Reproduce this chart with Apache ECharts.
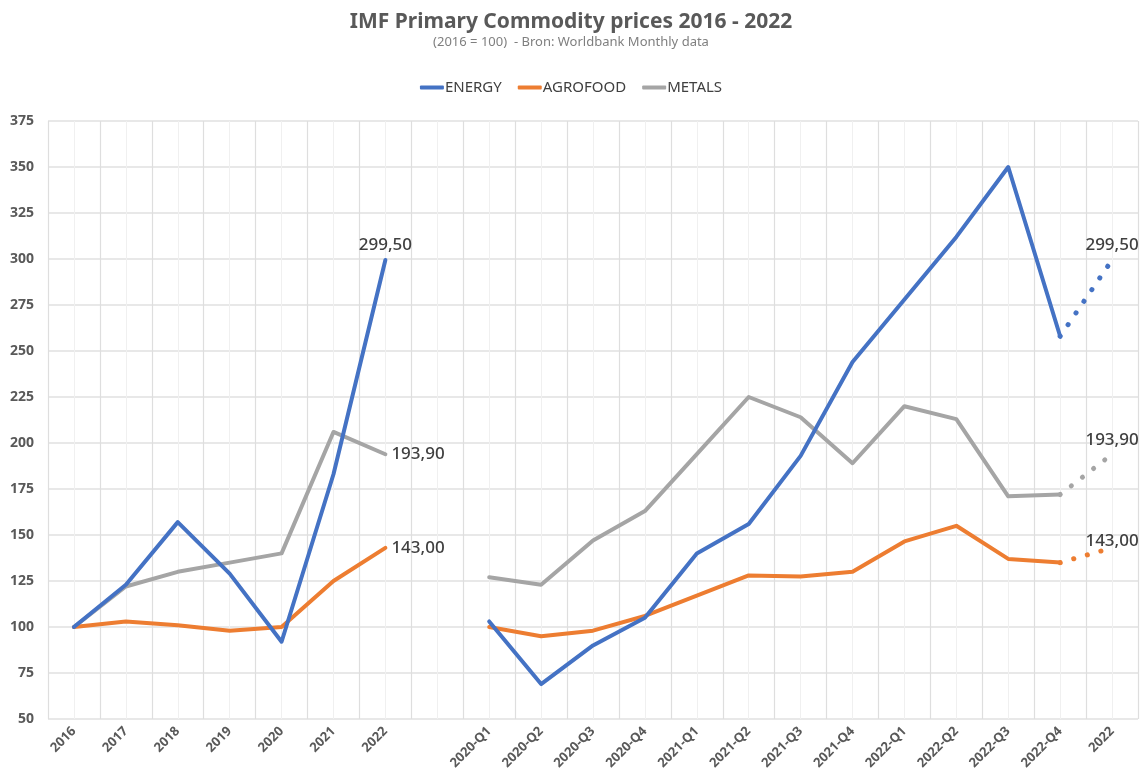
<!DOCTYPE html>
<html>
<head>
<meta charset="utf-8">
<script src="https://cdn.jsdelivr.net/npm/echarts@6/dist/echarts.min.js"></script>
<style>
  html, body { margin: 0; padding: 0; background: #fff; }
  #main { width: 1142px; height: 781px; }
</style>
</head>
<body>
<div id="main"></div>
<script>
// categorieen: jaren, lege kolom, kwartalen
var yearCats = ['2016', '2017', '2018', '2019', '2020', '2021', '2022'];
var quarterCats = ['2020-Q1', '2020-Q2', '2020-Q3', '2020-Q4', '2021-Q1', '2021-Q2',
                   '2021-Q3', '2021-Q4', '2022-Q1', '2022-Q2', '2022-Q3', '2022-Q4'];
var lastCat = '2022';

// jaarwaarden (2016 = 100)
var energyYear = [100, 123, 157, 129, 92, 183, 299.5];
var agroYear   = [100, 103, 101, 98, 100, 125, 143];
var metalsYear = [100, 122, 130, 135, 140, 206, 193.9];

// kwartaalwaarden
var energyQ = [103, 69, 90, 105, 140, 156, 193, 244, 278, 312, 350, 258];
var agroQ   = [100, 95, 98, 106, 117, 128, 127.5, 130, 146.5, 155, 137, 135];
var metalsQ = [127, 123, 147, 163, 194, 225, 214, 189, 220, 213, 171, 172];

// eindwaarden 2022 (stippellijn)
var energyEnd = 299.5;
var agroEnd = 143;
var metalsEnd = 193.9;

var yTicks = { min: 50, max: 375, interval: 25 };

var categories = yearCats.concat(['']).concat(quarterCats).concat([lastCat]);
var nCat = categories.length;

function fmt(v) { return v.toFixed(2).replace('.', ','); }

function solidData(yearVals, qVals, labelPos) {
    var d = yearVals.map(function (v, i) {
        if (i === yearVals.length - 1) {
            return { value: v, label: { show: true, position: labelPos } };
        }
        return v;
    });
    return d.concat([null]).concat(qVals).concat([null]);
}

function dottedData(qVals, endVal, labelDist) {
    var d = [];
    for (var i = 0; i < nCat; i++) d.push(null);
    d[nCat - 2] = qVals[qVals.length - 1];
    d[nCat - 1] = { value: endVal, label: { show: true, position: 'top', distance: labelDist } };
    return d;
}

var colors = { energy: '#4472C4', agro: '#ED7D31', metals: '#A5A5A5' };

var labelStyle = {
    show: false,
    formatter: function (p) { return fmt(p.value); },
    color: '#404040',
    fontSize: 17,
    fontWeight: 500,
    fontFamily: 'Noto Sans',
    distance: 6
};

function solidSeries(name, color, data, z) {
    return {
        name: name, type: 'line', data: data, z: z,
        symbol: 'circle', symbolSize: 0, showSymbol: true,
        connectNulls: false,
        lineStyle: { color: color, width: 4, cap: 'round', join: 'round' },
        itemStyle: { color: color },
        label: labelStyle
    };
}

function dotSeries(name, color, data, z) {
    return {
        name: name, type: 'line', data: data, z: z,
        symbol: 'circle', symbolSize: 0, showSymbol: true,
        lineStyle: { color: color, width: 5, type: [0.1, 14], cap: 'round' },
        itemStyle: { color: color },
        label: labelStyle
    };
}

var chart = echarts.init(document.getElementById('main'));

var option = {
    animation: false,
    color: [colors.energy, colors.agro, colors.metals],
    title: {
        text: 'IMF Primary Commodity prices 2016 - 2022',
        subtext: '(2016 = 100)  - Bron: Worldbank Monthly data',
        left: 'center',
        top: 7,
        itemGap: 3,
        textStyle: { fontSize: 21, fontWeight: 'bold', color: '#595959', fontFamily: 'Noto Sans' },
        subtextStyle: { fontSize: 13, color: '#7f7f7f', fontFamily: 'Noto Sans' }
    },
    legend: {
        top: 75,
        left: 'center',
        itemWidth: 24,
        itemHeight: 4,
        itemGap: 16,
        icon: 'roundRect',
        data: ['ENERGY', 'AGROFOOD', 'METALS'],
        textStyle: { fontSize: 15, color: '#404040', fontFamily: 'Noto Sans', padding: [0, 0, 0, -4] }
    },
    grid: { left: 48, right: 4, top: 121, bottom: 62 },
    xAxis: [
        {
            type: 'category',
            data: categories,
            boundaryGap: true,
            axisLine: { show: false },
            axisTick: { show: false },
            splitLine: { show: true, lineStyle: { color: '#dedede', width: 1.2 } },
            axisLabel: {
                interval: 0, rotate: 45, margin: 10,
                fontSize: 13, fontWeight: 'bold', color: '#595959', fontFamily: 'Noto Sans'
            }
        },
        {
            // alleen voor de lichte tussenlijnen in het midden van elke kolom
            type: 'value',
            min: 0, max: nCat, interval: 1,
            show: true,
            position: 'bottom',
            axisLine: { show: false },
            axisTick: { show: false },
            axisLabel: { show: false },
            splitLine: { show: false },
            minorTick: { show: false, splitNumber: 2 },
            minorSplitLine: { show: true, lineStyle: { color: '#f0f0f0', width: 1 } }
        }
    ],
    yAxis: {
        type: 'value',
        min: yTicks.min, max: yTicks.max, interval: yTicks.interval,
        axisLine: { show: false },
        axisTick: { show: false },
        splitLine: { lineStyle: { color: '#e0e0e0', width: 1.5 } },
        axisLabel: { fontSize: 14, fontWeight: 'bold', color: '#595959', fontFamily: 'Noto Sans', margin: 14 }
    },
    series: [
        solidSeries('ENERGY', colors.energy, solidData(energyYear, energyQ, 'top'), 5),
        solidSeries('AGROFOOD', colors.agro, solidData(agroYear, agroQ, 'right'), 4),
        solidSeries('METALS', colors.metals, solidData(metalsYear, metalsQ, 'right'), 3),
        dotSeries('ENERGY', colors.energy, dottedData(energyQ, energyEnd, 6), 5),
        dotSeries('AGROFOOD', colors.agro, dottedData(agroQ, agroEnd, -2), 4),
        dotSeries('METALS', colors.metals, dottedData(metalsQ, metalsEnd, 6), 3)
    ]
};

chart.setOption(option);
</script>
</body>
</html>
